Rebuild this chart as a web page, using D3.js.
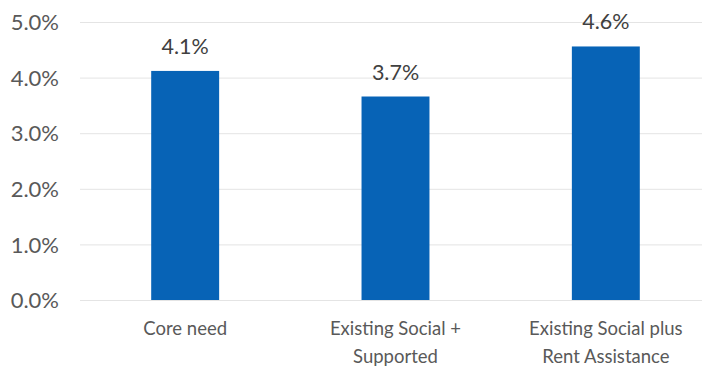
<!DOCTYPE html>
<html><head><meta charset="utf-8">
<script src="https://cdn.jsdelivr.net/npm/d3@7"></script>
<style>body{margin:0;background:#fff}svg{display:block}</style>
</head><body>
<svg id="c" width="702" height="370"></svg>
<script>
const categories = [["Core need"], ["Existing Social +", "Supported"], ["Existing Social plus", "Rent Assistance"]];
const values = [4.12, 3.66, 4.56];
const yTicks = [0, 1, 2, 3, 4, 5];

const svg = d3.select("#c");
const font = "Lato, 'Open Sans', sans-serif";
const x = d3.scaleBand().domain(d3.range(categories.length)).range([80, 711]).paddingInner(0.677).paddingOuter(0.3385);
const y = d3.scaleLinear().domain([0, 5]).range([300, 22]);

// gridlines
svg.append("g").selectAll("line").data(yTicks).join("line")
  .attr("x1", 80).attr("x2", 702)
  .attr("y1", d => y(d) + 0.5).attr("y2", d => y(d) + 0.5)
  .attr("stroke", "#e4e4e4").attr("stroke-width", 1);

// y axis
const yAxis = svg.append("g").attr("transform", "translate(59,0)")
  .call(d3.axisLeft(y).tickValues(yTicks).tickFormat(d => d.toFixed(1) + "%").tickSize(0).tickPadding(0));
yAxis.select(".domain").remove();
yAxis.selectAll("text").attr("font-family", font).attr("font-size", 22).attr("fill", "#595959").attr("dy", "0.35em");

// bars
svg.append("g").selectAll("rect").data(values).join("rect")
  .attr("x", (d, i) => x(i)).attr("width", x.bandwidth())
  .attr("y", d => y(d)).attr("height", d => y(0) - y(d))
  .attr("fill", "#0763b6");

// data labels
svg.append("g").selectAll("text").data(values).join("text")
  .attr("x", (d, i) => x(i) + x.bandwidth() / 2)
  .attr("y", d => y(d) - 17)
  .attr("text-anchor", "middle").attr("font-family", font).attr("font-size", 21.5).attr("fill", "#404040")
  .text(d => d.toFixed(1) + "%");

// x axis labels
const xl = svg.append("g").selectAll("text").data(categories).join("text")
  .attr("x", (d, i) => x(i) + x.bandwidth() / 2)
  .attr("y", 335)
  .attr("text-anchor", "middle").attr("font-family", font).attr("font-size", 18.5).attr("fill", "#595959");
xl.selectAll("tspan").data(d => d).join("tspan")
  .attr("x", function() { return this.parentNode.getAttribute("x"); })
  .attr("dy", (d, i) => i === 0 ? 0 : 28)
  .text(d => d);
</script>
</body></html>
